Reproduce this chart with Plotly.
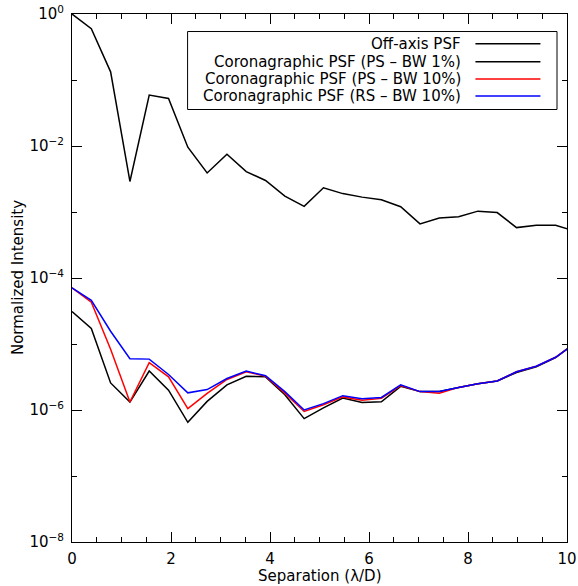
import plotly.graph_objects as go

separation = [0.00, 0.39, 0.78, 1.17, 1.56, 1.95, 2.34, 2.73, 3.13, 3.52, 3.91, 4.30, 4.69,
              5.08, 5.47, 5.86, 6.25, 6.64, 7.03, 7.42, 7.81, 8.20, 8.59, 8.98, 9.38, 9.77, 10.16]

off_axis = [1.0, 0.60, 0.133, 0.0029, 0.059, 0.0525, 0.0096, 0.0039, 0.0075, 0.0041, 0.0030,
            0.00174, 0.00122, 0.00233, 0.0019, 0.00168, 0.00153, 0.0012, 0.00066, 0.00081,
            0.00085, 0.00103, 0.00098, 0.00058, 0.00063, 0.00063, 0.00051]

ps_bw1 = [3.1e-5, 1.72e-5, 2.57e-6, 1.32e-6, 3.9e-6, 2.0e-6, 6.5e-7, 1.35e-6, 2.4e-6, 3.25e-6,
          3.18e-6, 1.7e-6, 7.4e-7, 1.08e-6, 1.52e-6, 1.3e-6, 1.33e-6, 2.28e-6, 1.9e-6, 1.9e-6,
          2.2e-6, 2.5e-6, 2.75e-6, 3.7e-6, 4.5e-6, 6.2e-6, 1.04e-5]

ps_bw10 = [7.1e-5, 4.3e-5, 8.3e-6, 1.32e-6, 5.2e-6, 3.18e-6, 1.05e-6, 1.78e-6, 2.9e-6, 3.8e-6,
           3.25e-6, 1.8e-6, 9.5e-7, 1.2e-6, 1.58e-6, 1.41e-6, 1.5e-6, 2.35e-6, 1.9e-6, 1.8e-6,
           2.2e-6, 2.5e-6, 2.75e-6, 3.8e-6, 4.6e-6, 6.3e-6, 1.02e-5]

rs_bw10 = [7.1e-5, 4.6e-5, 1.56e-5, 6.0e-6, 5.9e-6, 3.45e-6, 1.82e-6, 2.04e-6, 3.0e-6, 3.9e-6,
           3.3e-6, 1.9e-6, 1.0e-6, 1.25e-6, 1.65e-6, 1.48e-6, 1.55e-6, 2.4e-6, 1.9e-6, 1.9e-6,
           2.2e-6, 2.5e-6, 2.75e-6, 3.8e-6, 4.6e-6, 6.3e-6, 1.02e-5]

series_names = ["Off-axis PSF", "Coronagraphic PSF (PS \u2013 BW 1%)",
                "Coronagraphic PSF (PS \u2013 BW 10%)", "Coronagraphic PSF (RS \u2013 BW 10%)"]
series_values = [off_axis, ps_bw1, ps_bw10, rs_bw10]
series_colors = ["black", "black", "red", "blue"]

y_major = [1e-8, 1e-6, 1e-4, 1e-2, 1]
y_major_text = ["10<sup>\u22128</sup>", "10<sup>\u22126</sup>", "10<sup>\u22124</sup>",
                "10<sup>\u22122</sup>", "10<sup>0</sup>"]
y_minor = [1e-7, 1e-5, 1e-3, 1e-1]

x_title = "Separation (\u03bb/D)"
y_title = "Normalized Intensity"

FONT = "DejaVu Sans"

fig = go.Figure()
for name, vals, col in zip(series_names, series_values, series_colors):
    fig.add_trace(go.Scatter(x=separation, y=vals, mode="lines", name=name,
                             line=dict(color=col, width=1.5), showlegend=False))

# custom legend (text right-aligned, line sample on the right)
row_y = [0.9436, 0.9095, 0.8769, 0.8447]
fig.add_shape(type="rect", xref="paper", yref="paper", x0=0.2335, x1=0.9798, y0=0.8191, y1=0.9668,
              line=dict(color="black", width=1), fillcolor="white", layer="above")
for name, col, yy in zip(series_names, series_colors, row_y):
    fig.add_annotation(xref="paper", yref="paper", x=0.7893, y=yy, text=name, showarrow=False,
                       xanchor="right", yanchor="middle", font=dict(family=FONT, size=15, color="black"))
    fig.add_shape(type="line", xref="paper", yref="paper", x0=0.815, x1=0.9463, y0=yy, y1=yy,
                  line=dict(color=col, width=1.5), layer="above")

# axis titles
fig.add_annotation(xref="paper", yref="paper", x=0.5, y=-0.065, text=x_title, showarrow=False,
                   xanchor="center", yanchor="middle", font=dict(family=FONT, size=15, color="black"))
fig.add_annotation(xref="paper", yref="paper", x=-0.109, y=0.5, text=y_title, showarrow=False,
                   textangle=-90, xanchor="center", yanchor="middle",
                   font=dict(family=FONT, size=15, color="black"))

fig.update_layout(
    width=578, height=586,
    margin=dict(l=72, r=11, t=14, b=44, autoexpand=False),
    paper_bgcolor="white", plot_bgcolor="white",
    font=dict(family=FONT, size=14, color="black"),
)
fig.update_xaxes(
    range=[0, 10], dtick=2, tick0=0, ticks="inside", ticklen=10, tickwidth=1, tickcolor="black",
    showline=True, linecolor="black", linewidth=1, mirror="allticks", showgrid=False, zeroline=False,
    minor=dict(dtick=0.5, tick0=0, ticks="inside", ticklen=5, tickwidth=1, tickcolor="black", showgrid=False),
    automargin=False, ticklabelstandoff=3,
    tickfont=dict(family=FONT, size=15),
)
fig.update_yaxes(
    type="log", range=[-8, 0], tickvals=y_major, ticktext=y_major_text,
    ticks="inside", ticklen=10, tickwidth=1, tickcolor="black",
    showline=True, linecolor="black", linewidth=1, mirror="allticks", showgrid=False, zeroline=False,
    minor=dict(tickvals=y_minor, ticks="inside", ticklen=5, tickwidth=1, tickcolor="black", showgrid=False),
    automargin=False, ticklabelstandoff=4,
    tickfont=dict(family=FONT, size=15),
)

fig.write_html("out.html")
